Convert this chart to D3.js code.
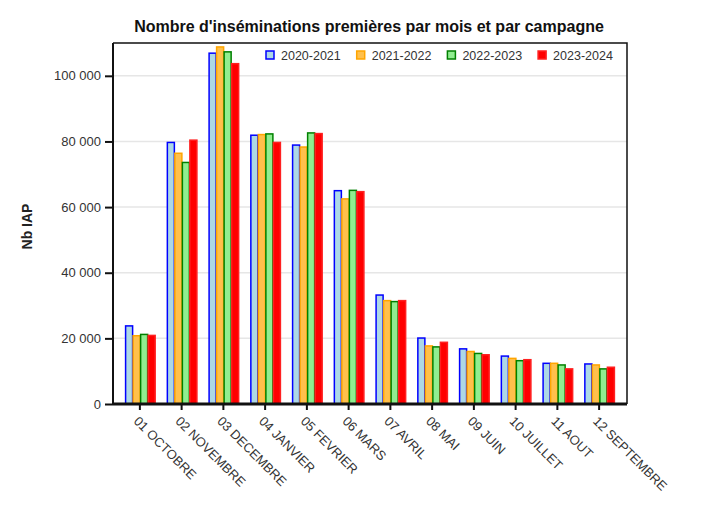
<!DOCTYPE html>
<html>
<head>
<meta charset="utf-8">
<script src="https://cdn.jsdelivr.net/npm/d3@7"></script>
<style>
  body { margin: 0; background: #fff; }
  text { font-family: "Liberation Sans", Arial, sans-serif; }
</style>
</head>
<body>
<div id="chart"></div>
<script>
// month categories
var months = ["01 OCTOBRE", "02 NOVEMBRE", "03 DECEMBRE", "04 JANVIER", "05 FEVRIER", "06 MARS",
  "07 AVRIL", "08 MAI", "09 JUIN", "10 JUILLET", "11 AOUT", "12 SEPTEMBRE"];
// campaigns (series)
var campaigns = ["2020-2021", "2021-2022", "2022-2023", "2023-2024"];
// values, one array per campaign
var c2020 = [23800, 79700, 106900, 81900, 78900, 65000, 33200, 20100, 16800, 14600, 12400, 12200];
var c2021 = [20800, 76400, 108800, 82100, 78300, 62500, 31500, 17700, 16000, 13900, 12400, 11900];
var c2022 = [21200, 73600, 107300, 82300, 82600, 65100, 31200, 17400, 15400, 13200, 11900, 10700];
var c2023 = [20900, 80400, 103700, 79700, 82400, 64700, 31500, 18800, 15000, 13500, 10700, 11200];
var yTicks = [0, 20000, 40000, 60000, 80000, 100000];

var fills = ["#add8e6", "#ffc04c", "#90ee90", "#ff0000"];
var strokes = ["#0000ff", "#ffa500", "#008000", "#ff2020"];

var width = 710, height = 507;
// plot frame
var pLeft = 113, pRight = 627, pTop = 43, pBottom = 404;

var seriesValues = [c2020, c2021, c2022, c2023];
var table = months.map(function(m, i) {
  return { month: m, values: seriesValues.map(function(s, k) { return { key: campaigns[k], k: k, v: s[i] }; }) };
});

var svg = d3.select("#chart").append("svg")
  .attr("width", width)
  .attr("height", height);

var x = d3.scaleBand().domain(months).range([119, 620]).paddingInner(0.28).paddingOuter(0.14);
var x1 = d3.scaleBand().domain(campaigns).range([0, x.bandwidth()]);
var y = d3.scaleLinear().domain([0, 110000]).range([pBottom, pTop]);

// gridlines
svg.append("g").selectAll("line").data(yTicks.slice(1)).enter()
  .append("line")
  .attr("x1", pLeft).attr("x2", pRight)
  .attr("y1", function(d) { return y(d); })
  .attr("y2", function(d) { return y(d); })
  .attr("stroke", "#e6e6e6")
  .attr("stroke-width", 1.5);

// frame top and right
svg.append("path")
  .attr("d", "M" + pLeft + "," + pTop + "H" + pRight + "V" + pBottom)
  .attr("fill", "none")
  .attr("stroke", "#111")
  .attr("stroke-width", 1.5);

// bars
var groups = svg.append("g").selectAll("g").data(table).enter()
  .append("g")
  .attr("transform", function(d) { return "translate(" + x(d.month) + ",0)"; });

groups.selectAll("rect").data(function(d) { return d.values; }).enter()
  .append("rect")
  .attr("x", function(d) { return x1(d.key) + 0.75; })
  .attr("y", function(d) { return y(d.v); })
  .attr("width", x1.bandwidth() - 0.5)
  .attr("height", function(d) { return y(0) - y(d.v); })
  .attr("fill", function(d) { return fills[d.k]; })
  .attr("stroke", function(d) { return strokes[d.k]; })
  .attr("stroke-width", 1.5);

// y axis
var yAxis = d3.axisLeft(y).tickValues(yTicks).tickSize(8).tickPadding(4)
  .tickFormat(function(d) { return d3.format(",")(d).replace(/,/g, " "); });
var gy = svg.append("g").attr("transform", "translate(" + pLeft + ",0)").call(yAxis);
gy.select(".domain").attr("d", "M0," + pTop + "V" + pBottom).attr("stroke", "#111").attr("stroke-width", 2);
gy.selectAll(".tick line").attr("stroke", "#111").attr("stroke-width", 2);
gy.selectAll(".tick text").attr("font-size", "13px").attr("fill", "#333")
  .style("font-family", "'Liberation Sans', Arial, sans-serif");

// x axis
var xAxis = d3.axisBottom(x).tickSize(6).tickSizeOuter(0);
var gx = svg.append("g").attr("transform", "translate(0," + pBottom + ")").call(xAxis);
gx.select(".domain").attr("d", "M" + pLeft + ",0H" + pRight).attr("stroke", "#111").attr("stroke-width", 3);
gx.selectAll(".tick line").attr("stroke", "#111").attr("stroke-width", 2);
gx.selectAll(".tick text")
  .attr("font-size", "13px")
  .attr("fill", "#333")
  .style("font-family", "'Liberation Sans', Arial, sans-serif")
  .attr("text-anchor", "start")
  .attr("y", 0).attr("dy", 0)
  .attr("transform", "translate(-7,18) rotate(45)");

// y label
svg.append("text")
  .attr("transform", "translate(32," + ((pTop + pBottom) / 2 + 3) + ") rotate(-90)")
  .attr("text-anchor", "middle")
  .attr("font-size", "14px")
  .attr("font-weight", "bold")
  .attr("fill", "#222")
  .text("Nb IAP");

// title
svg.append("text")
  .attr("x", 369).attr("y", 32)
  .attr("text-anchor", "middle")
  .attr("font-size", "16px")
  .attr("font-weight", "bold")
  .attr("fill", "#111")
  .text("Nombre d'inséminations premières par mois et par campagne");

// legend
var legend = svg.append("g").selectAll("g").data(campaigns).enter()
  .append("g")
  .attr("transform", function(d, i) { return "translate(" + (266 + i * 90.7) + ",51)"; });
legend.append("rect")
  .attr("width", 8).attr("height", 8)
  .attr("fill", function(d, i) { return fills[i]; })
  .attr("stroke", function(d, i) { return strokes[i]; })
  .attr("stroke-width", 1.5);
legend.append("text")
  .attr("x", 15).attr("y", 8.5)
  .attr("font-size", "12.5px")
  .attr("fill", "#333")
  .text(function(d) { return d; });
</script>
</body>
</html>
